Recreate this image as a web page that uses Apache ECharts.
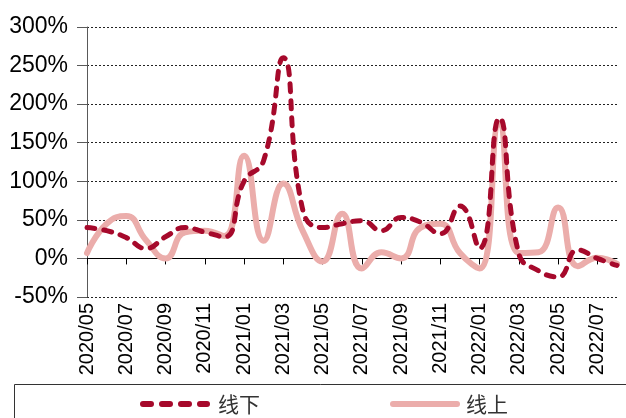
<!DOCTYPE html>
<html>
<head>
<meta charset="utf-8">
<script src="https://cdn.jsdelivr.net/npm/echarts@6/dist/echarts.min.js"></script>
<style>
  html, body { margin: 0; padding: 0; background: #fff; }
  #chart { width: 626px; height: 418px; }
</style>
</head>
<body>
<div id="chart"></div>
<script>
// Monthly categories, 2020/05 – 2022/08
const months = [
  '2020/05', '2020/06', '2020/07', '2020/08', '2020/09', '2020/10', '2020/11', '2020/12',
  '2021/01', '2021/02', '2021/03', '2021/04', '2021/05', '2021/06', '2021/07', '2021/08',
  '2021/09', '2021/10', '2021/11', '2021/12', '2022/01', '2022/02', '2022/03', '2022/04',
  '2022/05', '2022/06', '2022/07', '2022/08'
];

// Growth rates, in percent
const offline = [40, 36, 27, 13, 28, 40, 34, 28, 100, 127, 260, 62, 40, 45, 49, 36,
                 53, 47, 32, 68, 13, 182, 6, -16, -24, 11, 0, -9];
const online  = [7, 45, 55, 24, 0, 34, 36, 29, 133, 23, 97, 35, -4, 58, -13, 8,
                 0, 40, 45, 7, -13, 174, 7, 8, 66, -10, 1, -7];

// Y axis range and step, in percent
const yMin = -50;
const yMax = 300;
const yStep = 50;

const seriesNames = ['线下', '线上'];

const FONT = 'Liberation Sans, Arial, sans-serif';
const CJK = 'Noto Sans CJK SC, sans-serif';
const DARK_RED = '#A6092B';
const PINK = '#EBADAB';

const chart = echarts.init(document.getElementById('chart'));

// Legend drawn by hand: boxed strip with a dashed and a solid key
const legendY = 404;
const legendGraphics = [
  {
    type: 'rect', silent: true,
    shape: { x: 14.5, y: 384.5, width: 700, height: 100 },
    style: { fill: 'none', stroke: '#333', lineWidth: 1 }
  },
  {
    type: 'line', silent: true,
    shape: { x1: 143, y1: legendY, x2: 207, y2: legendY },
    style: { stroke: DARK_RED, lineWidth: 6, lineDash: [8, 11], lineCap: 'round' }
  },
  {
    type: 'text', silent: true, x: 218, y: legendY,
    style: { text: seriesNames[0], font: '21px ' + CJK, fill: '#333', verticalAlign: 'middle' }
  },
  {
    type: 'line', silent: true,
    shape: { x1: 393, y1: legendY, x2: 457, y2: legendY },
    style: { stroke: PINK, lineWidth: 6, lineCap: 'round' }
  },
  {
    type: 'text', silent: true, x: 466, y: legendY,
    style: { text: seriesNames[1], font: '21px ' + CJK, fill: '#333', verticalAlign: 'middle' }
  }
];

chart.setOption({
  animation: false,
  backgroundColor: '#fff',
  grid: { left: 87, right: 9, top: 27, bottom: 121, containLabel: false },
  graphic: legendGraphics,
  xAxis: [
    {
      // category labels along the bottom edge
      type: 'category',
      data: months,
      boundaryGap: false,
      position: 'bottom',
      axisLine: { show: false, onZero: false },
      axisTick: { show: false },
      axisLabel: {
        interval: 1,
        rotate: 90,
        margin: 6,
        fontSize: 20,
        fontFamily: FONT,
        color: '#000'
      }
    },
    {
      // baseline at 0% with its tick marks
      type: 'category',
      data: months,
      boundaryGap: false,
      position: 'bottom',
      axisLine: { show: true, onZero: true, lineStyle: { color: '#000', width: 1 } },
      axisTick: { show: true, interval: 1, length: 6, lineStyle: { color: '#000' } },
      axisLabel: { show: false },
      splitLine: { show: false }
    }
  ],
  yAxis: {
    type: 'value',
    min: yMin,
    max: yMax,
    interval: yStep,
    axisLine: { show: true, lineStyle: { color: '#595959', width: 1 } },
    axisTick: { show: true, length: 10, lineStyle: { color: '#595959' } },
    axisLabel: {
      formatter: '{value}%',
      margin: 19,
      fontSize: 23,
      fontFamily: FONT,
      color: '#000'
    },
    splitLine: {
      show: true,
      lineStyle: { color: '#222', width: 1, type: [2, 2] }
    }
  },
  series: [
    {
      name: seriesNames[1],
      type: 'line',
      xAxisIndex: 0,
      data: online,
      smooth: 0.5,
      symbol: 'none',
      z: 2,
      lineStyle: { color: PINK, width: 6, cap: 'round', join: 'round' },
      itemStyle: { color: PINK }
    },
    {
      name: seriesNames[0],
      type: 'line',
      xAxisIndex: 0,
      data: offline,
      smooth: 0.5,
      symbol: 'none',
      z: 3,
      lineStyle: { color: DARK_RED, width: 5, type: [8, 9], cap: 'round', join: 'round' },
      itemStyle: { color: DARK_RED }
    }
  ]
});
</script>
</body>
</html>
